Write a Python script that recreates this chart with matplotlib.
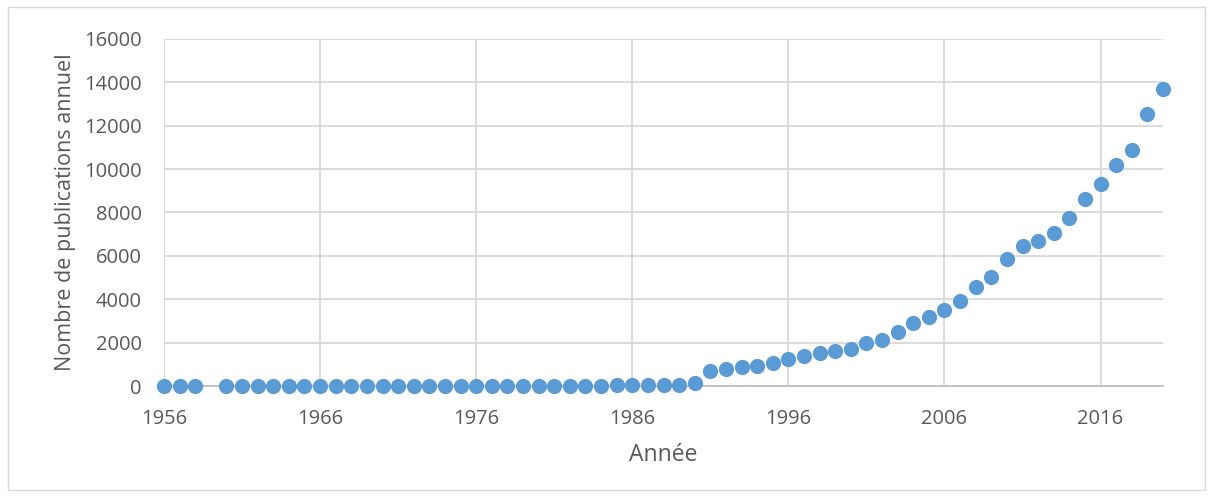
import matplotlib.pyplot as plt
from matplotlib.patches import Rectangle

# Année / nombre de publications
years = [1956, 1957, 1958,
         1960, 1961, 1962, 1963, 1964, 1965, 1966, 1967, 1968, 1969,
         1970, 1971, 1972, 1973, 1974, 1975, 1976, 1977, 1978, 1979,
         1980, 1981, 1982, 1983, 1984, 1985, 1986, 1987, 1988, 1989,
         1990, 1991, 1992, 1993, 1994, 1995, 1996, 1997, 1998, 1999,
         2000, 2001, 2002, 2003, 2004, 2005, 2006, 2007, 2008, 2009,
         2010, 2011, 2012, 2013, 2014, 2015, 2016, 2017, 2018, 2019,
         2020]
publications = [5, 5, 5,
                5, 5, 5, 5, 8, 8, 8, 8, 10, 10,
                10, 10, 10, 12, 12, 12, 12, 12, 15, 15,
                15, 15, 18, 18, 20, 25, 30, 40, 45, 50,
                120, 690, 770, 890, 940, 1040, 1230, 1370, 1510, 1610,
                1690, 1990, 2140, 2480, 2890, 3160, 3520, 3920, 4550, 5040,
                5870, 6450, 6690, 7070, 7740, 8640, 9300, 10170, 10870, 12560,
                13680]

x_ticks = [1956, 1966, 1976, 1986, 1996, 2006, 2016]
y_ticks = list(range(0, 16001, 2000))

plt.rcParams['font.family'] = ['Open Sans', 'DejaVu Sans']

fig = plt.figure(figsize=(12.12, 4.97), dpi=100)
fig.patches.append(Rectangle((8 / 1212, 7 / 497), 1197 / 1212, 483 / 497,
                             transform=fig.transFigure, fill=False,
                             edgecolor='#d9d9d9', linewidth=1))
ax = fig.add_axes([164 / 1212, 1 - 386 / 497, 999 / 1212, 347 / 497])

ax.scatter(years, publications, s=120, color='#5b9bd5', zorder=3,
           clip_on=False, linewidths=0)

ax.set_xlim(1956, 2020)
ax.set_ylim(0, 16000)
ax.set_xticks(x_ticks)
ax.set_yticks(y_ticks)
ax.grid(True, color='#d9d9d9', linewidth=1.3)
ax.set_axisbelow(True)
for side in ['top', 'right', 'left']:
    ax.spines[side].set_visible(False)
ax.spines['bottom'].set_color('#bfbfbf')
ax.spines['bottom'].set_linewidth(1.3)
ax.tick_params(length=0, labelsize=14.5, labelcolor='#595959')
ax.tick_params(axis='x', pad=16.5)
ax.tick_params(axis='y', pad=16)

ax.set_xlabel('Année', fontsize=16.5, color='#595959', labelpad=10)
ax.set_ylabel('Nombre de publications annuel', fontsize=15.5,
              color='#595959', labelpad=6)

plt.savefig('out.png')
